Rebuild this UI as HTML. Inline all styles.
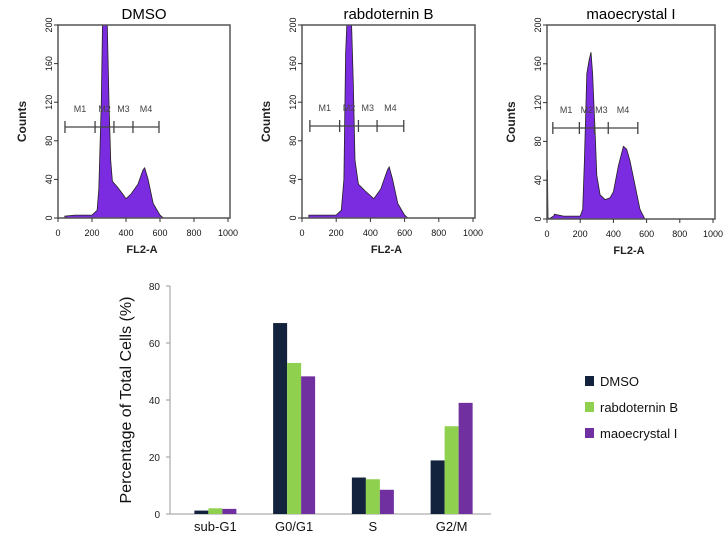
<!DOCTYPE html>
<html><head><meta charset="utf-8"><style>
body{margin:0;background:#fff;}
svg{display:block;font-family:"Liberation Sans",sans-serif;}
</style></head><body>
<svg id="s" width="725" height="536" viewBox="0 0 725 536"></svg>
<script>
// ---- histogram data (FL2-A value, counts) ----
const histTitles = ["DMSO", "rabdoternin B", "maoecrystal I"];
const histX0 = [40,100,200,230,240,255,262,290,300,310,320,350,380,400,430,470,500,510,530,560,600,620];
const histY0 = [2,3,3,8,30,120,210,210,120,60,38,32,25,20,25,35,50,52,40,15,3,0];
const histX1 = [40,100,200,230,245,255,262,290,300,310,330,370,420,460,500,510,530,560,600,620];
const histY1 = [3,3,3,8,40,170,210,210,140,60,35,28,20,30,50,53,40,15,3,0];
const histX2 = [0,3,6,10,40,45,100,200,215,225,240,255,265,275,290,300,320,350,380,400,430,460,480,500,530,560,590];
const histY2 = [50,50,2,0,3,5,3,3,10,60,150,165,172,150,90,45,25,20,22,28,55,75,72,60,35,10,0];
const markers0 = [41,218,329,441,594];
const markers1 = [46,220,330,439,595];
const markers2 = [35,195,286,369,547];
const markerLabels = ["M1","M2","M3","M4"];
const xTicks = [0,200,400,600,800,1000];
const yTicks = [0,40,80,120,160,200];
// ---- bar chart data ----
const categories = ["sub-G1","G0/G1","S","G2/M"];
const seriesNames = ["DMSO","rabdoternin B","maoecrystal I"];
const dmso = [1.2,67,12.8,18.8];
const rabdo = [2,53,12.2,30.8];
const mao = [1.8,48.3,8.5,39];
const barTicks = [0,20,40,60,80];

const NS="http://www.w3.org/2000/svg";
const svg=document.getElementById('s');
function el(tag,attrs,parent,text){const e=document.createElementNS(NS,tag);for(const k in attrs)e.setAttribute(k,attrs[k]);if(text!==undefined)e.textContent=text;(parent||svg).appendChild(e);return e;}

const panels=[{l:58,r:230,t:25,b:218,xs:histX0,ys:histY0,m:markers0,my:127},
{l:302,r:475,t:25,b:218,xs:histX1,ys:histY1,m:markers1,my:126},
{l:547,r:715,t:25,b:219,xs:histX2,ys:histY2,m:markers2,my:128}];
panels.forEach((p,i)=>{
  const g=el('g',{});
  
  
  const sx=v=>p.l+(v/1000)*(p.r-p.l-2);
  const sy=v=>p.b-(Math.min(v,200)/200)*(p.b-p.t);
  const t=el('text',{x:(p.l+p.r)/2,y:19,'text-anchor':'middle','font-size':15,fill:'#000'},g,histTitles[i]);
  
  
  let d='M'+sx(p.xs[0])+','+p.b;
  p.xs.forEach((x,j)=>{d+=' L'+sx(x).toFixed(1)+','+sy(p.ys[j]).toFixed(1);});
  d+=' L'+sx(p.xs[p.xs.length-1])+','+p.b+' Z';
  const area=el('path',{d:d,fill:'#7b2be0',stroke:'#222','stroke-width':0.8},g);
  
  
  const box=el('rect',{x:p.l,y:p.t,width:p.r-p.l,height:p.b-p.t,fill:'none',stroke:'#555','stroke-width':1.5},g);
  
  
  xTicks.forEach(v=>{
    el('line',{x1:sx(v),x2:sx(v),y1:p.b,y2:p.b+4,stroke:'#333'},g);
    const tx=el('text',{x:sx(v),y:p.b+18,'text-anchor':'middle','font-size':9,fill:'#111'},g,String(v));
    
    
  });
  yTicks.forEach(v=>{
    el('line',{x1:p.l-4,x2:p.l,y1:sy(v),y2:sy(v),stroke:'#333'},g);
    const ty=el('text',{x:p.l-9,y:sy(v),'text-anchor':'middle','font-size':9,fill:'#111',transform:'rotate(-90 '+(p.l-9)+' '+sy(v)+')','dominant-baseline':'central'},g,String(v));
    
    
  });
  const xl=el('text',{x:(p.l+p.r)/2-2,y:p.b+35,'text-anchor':'middle','font-size':11,'font-weight':'bold',fill:'#222'},g,'FL2-A');
  
  
  const cy=(p.t+p.b)/2;
  const yl=el('text',{x:p.l-36,y:cy,'text-anchor':'middle','font-size':12,'font-weight':'bold',fill:'#222',transform:'rotate(-90 '+(p.l-36)+' '+cy+')','dominant-baseline':'central'},g,'Counts');
  
  
  el('line',{x1:sx(p.m[0]),x2:sx(p.m[4]),y1:p.my,y2:p.my,stroke:'#444','stroke-width':1.3},g);
  p.m.forEach(v=>el('line',{x1:sx(v),x2:sx(v),y1:p.my-6,y2:p.my+6,stroke:'#444','stroke-width':1.3},g));
  markerLabels.forEach((lb,j)=>{
    const mt=el('text',{x:(sx(p.m[j])+sx(p.m[j+1]))/2,y:p.my-15,'text-anchor':'middle','font-size':9,fill:'#444'},g,lb);
    
    
  });
});

// bar chart
const bc=el('g',{});


const L=170,R=491,Y0=514,Y80=286;
const by=v=>Y0-(v/80)*(Y0-Y80);
const band=(R-176)/categories.length;
const bw=14;
el('line',{x1:L,x2:L,y1:Y80,y2:Y0,stroke:'#999','stroke-width':1},bc);
el('line',{x1:L,x2:R,y1:Y0,y2:Y0,stroke:'#999','stroke-width':1},bc);
barTicks.forEach(v=>{
  el('line',{x1:L-4,x2:L,y1:by(v),y2:by(v),stroke:'#999'},bc);
  const t=el('text',{x:L-10,y:by(v)+4,'text-anchor':'end','font-size':10,fill:'#222'},bc,String(v));
  
  
});
const series=[dmso,rabdo,mao];
const colors=['#14233d','#8fd14f','#7030a0'];
categories.forEach((c,i)=>{
  const cx=176+band*(i+0.5);
  series.forEach((s,k)=>{
    const x=cx-1.5*bw+k*bw;
    const r=el('rect',{x:x,y:by(s[i]),width:bw,height:Y0-by(s[i]),fill:colors[k]},bc);
    
    
  });
  const t=el('text',{x:cx,y:531,'text-anchor':'middle','font-size':13,fill:'#111'},bc,c);
  
  
});
const ytl=el('text',{x:131,y:400,'text-anchor':'middle','font-size':16,fill:'#111',transform:'rotate(-90 131 400)'},bc,'Percentage of Total Cells (%)');


seriesNames.forEach((n,k)=>{
  const y=381+k*26;
  const lg=el('g',{},bc);
  
  
  el('rect',{x:585,y:y-5,width:9,height:10,fill:colors[k]},lg);
  el('text',{x:600,y:y+5,'font-size':13,fill:'#111'},lg,n);
});
</script>
</body></html>
